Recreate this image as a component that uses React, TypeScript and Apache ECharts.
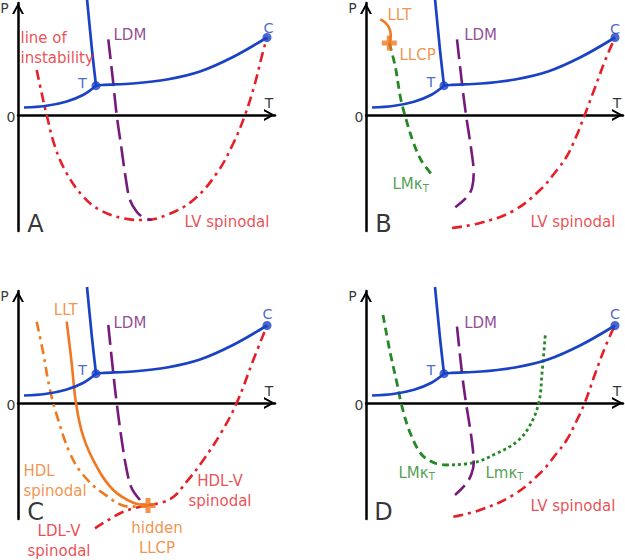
import React, { useEffect, useRef } from 'react';
import * as echarts from 'echarts';

// ---------- data (T, P) ----------
const BLUE_SUB = [[6, 7.5], [27, 9], [48, 13.3], [65, 20], [78, 29.3]];
const BLUE_LV = [[78, 29.3], [84, 30], [115, 31.5], [149, 35.5], [182, 43.5], [215, 58], [249, 77.5]];
const BLUE_MELT = [[78, 29.3], [74, 65], [69, 116]];
const TRIPLE = [78, 29.3];
const CRIT = [249, 77.5];

// Panel A
const LDM_A = [[90.3, 75.7], [95.3, 31.7], [98.7, 0], [103.7, -35], [108, -65], [112, -85], [118.7, -96.7], [125.3, -102.3], [133.7, -105]];
const RED_A = [[18.7, 45], [23.7, 21.7], [28.7, 0], [37, -31.7], [48.7, -58.3], [65.3, -81.7], [82, -95], [105.3, -103.3], [125.3, -105], [148.7, -100], [175.3, -85], [198.7, -58.3], [215.3, -28.3], [227, 0], [237, 31.7], [243.7, 58.3], [249, 77.5]];

// Panel B
const LDM_B = [[91, 75.7], [96, 31.7], [100, 0], [105.3, -35], [107.7, -58.3], [106, -73], [101, -82], [89.3, -92.3]];
const GREEN_B = [[23.3, 72], [29.3, 48.3], [34.3, 18.3], [39.3, -1.7], [47.7, -28.3], [56, -46.7], [67.7, -61.7]];
const LLT_B = [[14.3, 95.7], [19.3, 92.3], [23.3, 86.7], [24.7, 80], [23.5, 72]];
const LLCP_B = [23.3, 72];
const RED_B = [[86, -113], [114, -108], [147, -96], [174, -75], [191, -55], [201, -41], [210, -22], [218.7, 0], [229.3, 28.3], [239.3, 55], [249, 77.5]];

// Panel C
const LDM_C = [[90.3, 78], [95.3, 29.7], [98.7, 0], [103.7, -37], [108.7, -67], [113.7, -85.3], [122, -97]];
const LLT_C = [[48.7, 81.3], [53.7, 39.7], [58, 0], [65.3, -33.7], [78.7, -63.7], [95.3, -87], [115.3, -99.7], [130, -102]];
const HDL_SP_C = [[18.7, 81.3], [25.3, 49.7], [32, 13], [40.3, -17], [52, -50.3], [65.3, -72], [85.3, -90.3], [112, -103.7], [130, -103]];
const LDLV_C = [[77, -125.3], [105.3, -108.7], [130, -102]];
const HDLV_C = [[130, -102], [152, -96.3], [168.7, -78.7], [185.3, -57], [203, -30], [218.7, 0], [235.3, 43], [249, 77.5]];
const LLCP_C = [130, -102.5];

// Panel D
const LDM_D = [[91, 76.3], [96, 29.7], [100, 0], [105.3, -33.7], [107.7, -60.3], [105.7, -70.3], [100.7, -80], [89, -92]];
const GREEN_D_DASH = [[17, 88], [24.3, 49.7], [31, 19.7], [36, -3.7], [44.3, -30.3], [56, -52], [69.3, -60.3], [80, -62]];
const GREEN_D_DOT = [[80, -62], [107.3, -59.7], [130.7, -50.3], [150.7, -38.7], [163, -24], [172.7, 0], [176, 29.7], [179.3, 68]];
const RED_D = [[87.3, -113.7], [114, -107], [147.3, -92], [174, -70.3], [190.7, -50.3], [200.7, -37], [210, -19], [218.7, 0], [229.3, 29.7], [239.3, 56.3], [249, 78]];

// Texts
const PANEL_LETTERS = ['A', 'B', 'C', 'D'];
const AXIS_P = [-13.5, 107];
const AXIS_T = [251, 12.5];
const AXIS_0 = [-7, -1.5];
const LETTER_POS = [17.5, -109];

// ---------- styles ----------
const BLUE = '#1a42c4';
const RED = '#e61e28';
const PURPLE = '#761a7c';
const GREEN = '#258725';
const ORANGE = '#f07820';
const FONT = "'DejaVu Sans', sans-serif";
const CHEVRON = 'path://M0,11 L6,0 L12,11 L9.8,11 L6,4 L2.2,11 Z';
const PLUS = 'path://M4,0 H8 V4 H12 V8 H8 V12 H4 V8 H0 V4 H4 Z';

const DASH_DOT = [10, 5, 3, 5];
const LONG_DASH = [20, 7];
const SHORT_DASH = [8, 5];
const DOTS = [3, 3];

const ORIGINS = [[18, 115], [366, 115], [18, 403], [366, 403]];
const T_MAX = 257, P_MAX = 112, P_MIN = -116;

function line(g: number, data: number[][], color: string, type: any, width = 2.6, smooth: number = 0.35) {
  return {
    type: 'line', xAxisIndex: g, yAxisIndex: g, data, symbol: 'none', showSymbol: false,
    smooth, clip: false, silent: true,
    lineStyle: { color, width, type },
  };
}

function dots(g: number, pts: number[][], color: string, size: number, symbol = 'circle') {
  return {
    type: 'scatter', xAxisIndex: g, yAxisIndex: g, data: pts, symbol, symbolSize: size,
    clip: false, silent: true, itemStyle: { color }, z: 5,
  };
}

function texts(g: number, items: { name: string; value: number[] }[], color: string, size: number, pos: string, lineHeight = 18) {
  return {
    type: 'scatter', xAxisIndex: g, yAxisIndex: g, data: items, symbolSize: 1,
    clip: false, silent: true, itemStyle: { color: 'transparent' }, z: 6,
    label: {
      show: true, formatter: '{b}', position: pos, distance: 0, color, fontSize: size,
      fontFamily: FONT, lineHeight, textBorderWidth: 0, textShadowBlur: 0,
      rich: { s: { fontSize: 10, lineHeight: 10, verticalAlign: 'bottom', color, fontFamily: FONT, textBorderWidth: 0 } },
    },
  };
}

function common(g: number) {
  return [
    texts(g, [{ name: 'P', value: AXIS_P }, { name: 'T', value: AXIS_T }, { name: '0', value: AXIS_0 }], '#000', 14, 'inside'),
    texts(g, [{ name: PANEL_LETTERS[g], value: LETTER_POS }], '#000', 24, 'inside', 26),
  ];
}

function blue(g: number, tPos: number[], cPos: number[]) {
  return [
    line(g, BLUE_SUB, BLUE, 'solid', 2.7, 0.35),
    line(g, BLUE_LV, BLUE, 'solid', 2.7, 0.35),
    line(g, BLUE_MELT, BLUE, 'solid', 2.7, 0.2),
    dots(g, [TRIPLE, CRIT], BLUE, 9),
    texts(g, [{ name: 'T', value: tPos }, { name: 'C', value: cPos }], BLUE, 14.5, 'inside'),
  ];
}

export default function App() {
  const ref = useRef<HTMLDivElement>(null);
  useEffect(() => {
    if (!ref.current) return;
    const chart = echarts.init(ref.current, undefined, { renderer: 'svg' });
    const grids = ORIGINS.map(([ox, oy]) => ({
      left: ox, top: oy - P_MAX, width: T_MAX, height: P_MAX - P_MIN,
    }));
    const axisLine = {
      show: true, onZero: true,
      lineStyle: { color: '#000', width: 2.5 },
      symbol: ['none', CHEVRON], symbolSize: [12, 11], symbolOffset: [0, -5.5],
    };
    const xAxis = ORIGINS.map((_, i) => ({
      type: 'value', gridIndex: i, min: 0, max: T_MAX,
      axisLine, axisTick: { show: false }, axisLabel: { show: false }, splitLine: { show: false },
    }));
    const yAxis = ORIGINS.map((_, i) => ({
      type: 'value', gridIndex: i, min: P_MIN, max: P_MAX,
      axisLine, axisTick: { show: false }, axisLabel: { show: false }, splitLine: { show: false },
    }));

    const series: any[] = [
      // Panel A
      line(0, RED_A, RED, DASH_DOT, 2.6, 0.4),
      line(0, LDM_A, PURPLE, LONG_DASH, 2.6, 0.35),
      ...blue(0, [64.5, 32], [250.5, 87.5]),
      texts(0, [{ name: 'line of\ninstability', value: [2, 67.5] }, { name: 'LV spinodal', value: [166, -106.5] }], RED, 15, 'right', 20),
      texts(0, [{ name: 'LDM', value: [95, 80] }], PURPLE, 15, 'right'),
      ...common(0),

      // Panel B
      line(1, RED_B, RED, DASH_DOT, 2.6, 0.4),
      line(1, GREEN_B, GREEN, SHORT_DASH, 2.8, 0.35),
      line(1, LDM_B, PURPLE, LONG_DASH, 2.6, 0.35),
      line(1, LLT_B, ORANGE, 'solid', 2.6, 0.4),
      dots(1, [LLCP_B], ORANGE, 15, PLUS),
      ...blue(1, [65, 33], [249, 86]),
      texts(1, [{ name: 'LLT', value: [21, 100] }, { name: 'LLCP', value: [33, 60.5] }], ORANGE, 15, 'right'),
      texts(1, [{ name: 'LDM', value: [97.7, 80] }], PURPLE, 15, 'right'),
      texts(1, [{ name: 'LMκ{s|T}', value: [26, -69] }], GREEN, 15, 'right'),
      texts(1, [{ name: 'LV spinodal', value: [164, -107] }], RED, 15, 'right'),
      ...common(1),

      // Panel C
      line(2, HDLV_C, RED, DASH_DOT, 2.6, 0.4),
      line(2, LDLV_C, RED, DASH_DOT, 2.6, 0.3),
      line(2, HDL_SP_C, ORANGE, DASH_DOT, 2.6, 0.4),
      line(2, LDM_C, PURPLE, LONG_DASH, 2.6, 0.35),
      line(2, LLT_C, ORANGE, 'solid', 2.6, 0.4),
      dots(2, [LLCP_C], ORANGE, 15, PLUS),
      ...blue(2, [64.5, 33], [249.5, 89]),
      texts(2, [{ name: 'LLT', value: [35.3, 93] }, { name: 'HDL\nspinodal', value: [5, -78] }], ORANGE, 15, 'right', 19.5),
      texts(2, [{ name: 'hidden\nLLCP', value: [139, -135] }], ORANGE, 15, 'inside', 20.5),
      texts(2, [{ name: 'HDL-V\nspinodal', value: [202, -88] }, { name: 'LDL-V\nspinodal', value: [41, -138] }], RED, 15, 'inside', 20.5),
      texts(2, [{ name: 'LDM', value: [95, 80] }], PURPLE, 15, 'right'),
      ...common(2),

      // Panel D
      line(3, RED_D, RED, DASH_DOT, 2.6, 0.4),
      line(3, GREEN_D_DASH, GREEN, SHORT_DASH, 2.8, 0.35),
      line(3, GREEN_D_DOT, GREEN, DOTS, 2.8, 0.4),
      line(3, LDM_D, PURPLE, LONG_DASH, 2.6, 0.35),
      ...blue(3, [65, 33], [249, 89]),
      texts(3, [{ name: 'LMκ{s|T}', value: [32, -69.5] }, { name: 'Lmκ{s|T}', value: [119, -69.5] }], GREEN, 15, 'right'),
      texts(3, [{ name: 'LDM', value: [97.7, 80] }], PURPLE, 15, 'right'),
      texts(3, [{ name: 'LV spinodal', value: [164, -102.5] }], RED, 15, 'right'),
      ...common(3),
    ];

    chart.setOption({
      animation: false,
      backgroundColor: '#fff',
      grid: grids,
      xAxis,
      yAxis,
      series,
    });
    return () => chart.dispose();
  }, []);
  return <div ref={ref} style={{ position: 'absolute', left: 0, top: 0, width: 625, height: 560 }} />;
}
